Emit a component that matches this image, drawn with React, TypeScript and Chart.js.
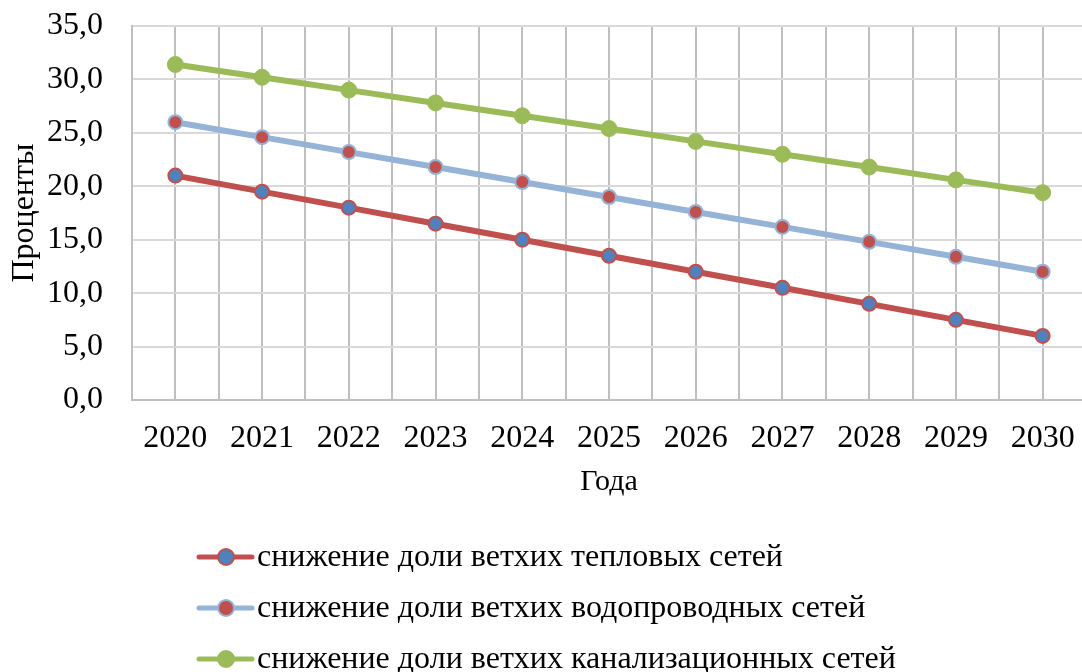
import React, { useEffect, useRef } from "react";
import { Chart, registerables } from "chart.js";

Chart.register(...registerables);

const years = [2020, 2021, 2022, 2023, 2024, 2025, 2026, 2027, 2028, 2029, 2030];
const heatNetworks = [21.0, 19.5, 18.0, 16.5, 15.0, 13.5, 12.0, 10.5, 9.0, 7.5, 6.0];
const waterNetworks = [26.0, 24.6, 23.2, 21.8, 20.4, 19.0, 17.6, 16.2, 14.8, 13.4, 12.0];
const sewerNetworks = [31.4, 30.2, 29.0, 27.8, 26.6, 25.4, 24.2, 23.0, 21.8, 20.6, 19.4];
const seriesNames = [
  "снижение доли ветхих тепловых сетей",
  "снижение доли ветхих водопроводных сетей",
  "снижение доли ветхих канализационных сетей",
];
const yAxisTitle = "Проценты";
const xAxisTitle = "Года";
const yMin = 0;
const yMax = 35;
const yStep = 5;

const FONT = "'Liberation Serif', 'Times New Roman', serif";

const legendPlugin = {
  id: "customLegend",
  afterDraw(chart: any) {
    const ctx = chart.ctx;
    ctx.save();
    chart.data.datasets.forEach((ds: any, i: number) => {
      const y = 557 + i * 51;
      ctx.strokeStyle = ds.borderColor;
      ctx.lineWidth = 5;
      ctx.lineCap = "round";
      ctx.beginPath();
      ctx.moveTo(199, y);
      ctx.lineTo(252, y);
      ctx.stroke();
      ctx.beginPath();
      ctx.arc(226, y, 8, 0, Math.PI * 2);
      ctx.fillStyle = ds.pointBackgroundColor;
      ctx.fill();
      ctx.lineWidth = 2;
      ctx.strokeStyle = ds.pointBorderColor;
      ctx.stroke();
      ctx.fillStyle = "#000";
      ctx.font = `32px ${FONT}`;
      ctx.textAlign = "left";
      ctx.textBaseline = "middle";
      ctx.fillText(ds.label, 257, y + 1);
    });
    ctx.restore();
  },
};

export default function App() {
  const canvasRef = useRef<HTMLCanvasElement | null>(null);

  useEffect(() => {
    if (!canvasRef.current) return;
    const mk = (vals: number[]) => years.map((x, i) => ({ x, y: vals[i] }));
    const chart = new Chart(canvasRef.current, {
      type: "line",
      data: {
        datasets: [
          {
            label: seriesNames[0],
            data: mk(heatNetworks),
            borderColor: "#C0504D",
            borderWidth: 6,
            pointRadius: 7,
            pointBorderWidth: 2,
            pointBackgroundColor: "#4F81BD",
            pointBorderColor: "#C0504D",
          },
          {
            label: seriesNames[1],
            data: mk(waterNetworks),
            borderColor: "#95B3D7",
            borderWidth: 6,
            pointRadius: 7,
            pointBorderWidth: 2,
            pointBackgroundColor: "#C0504D",
            pointBorderColor: "#95B3D7",
          },
          {
            label: seriesNames[2],
            data: mk(sewerNetworks),
            borderColor: "#9BBB59",
            borderWidth: 6,
            pointRadius: 8,
            pointBorderWidth: 1,
            pointBackgroundColor: "#9BBB59",
            pointBorderColor: "#9BBB59",
          },
        ],
      },
      options: {
        animation: false,
        responsive: false,
        layout: { padding: { left: 0, right: 14, top: 26, bottom: 172 } },
        plugins: {
          legend: { display: false },
          tooltip: { enabled: false },
        },
        scales: {
          x: {
            type: "linear",
            min: years[0] - 0.5,
            max: years[years.length - 1] + 0.5,
            afterFit: (scale: any) => {
              scale.height = 100;
              scale.paddingLeft = 0;
              scale.paddingRight = 0;
            },
            ticks: {
              stepSize: 0.5,
              autoSkip: false,
              maxRotation: 0,
              padding: 19,
              color: "#000",
              font: { family: FONT, size: 32 },
              callback: (v: any) => (Number.isInteger(v) ? String(v) : ""),
            },
            grid: { color: "#BFBFBF", lineWidth: 2, drawTicks: false },
            border: { color: "#BFBFBF", width: 2 },
            title: {
              display: true,
              text: xAxisTitle,
              color: "#000",
              font: { family: FONT, size: 30 },
              padding: { top: 0, bottom: 0 },
            },
          },
          y: {
            min: yMin,
            max: yMax,
            afterFit: (scale: any) => {
              scale.width = 132;
              scale.paddingTop = 0;
              scale.paddingBottom = 0;
            },
            ticks: {
              stepSize: yStep,
              padding: 29,
              color: "#000",
              font: { family: FONT, size: 32 },
              callback: (v: any) => Number(v).toFixed(1).replace(".", ","),
            },
            grid: { color: "#D9D9D9", lineWidth: 2, drawTicks: false },
            border: { color: "#BFBFBF", width: 2 },
            title: {
              display: true,
              text: yAxisTitle,
              color: "#000",
              font: { family: FONT, size: 32 },
              padding: { top: 5, bottom: 0 },
            },
          },
        },
      },
      plugins: [legendPlugin],
    });
    return () => chart.destroy();
  }, []);

  return (
    <div
      style={{
        position: "fixed",
        left: 0,
        top: 0,
        width: 1082,
        height: 672,
        overflow: "hidden",
        background: "#fff",
      }}
    >
      <canvas ref={canvasRef} width={1100} height={672} style={{ display: "block" }} />
    </div>
  );
}
